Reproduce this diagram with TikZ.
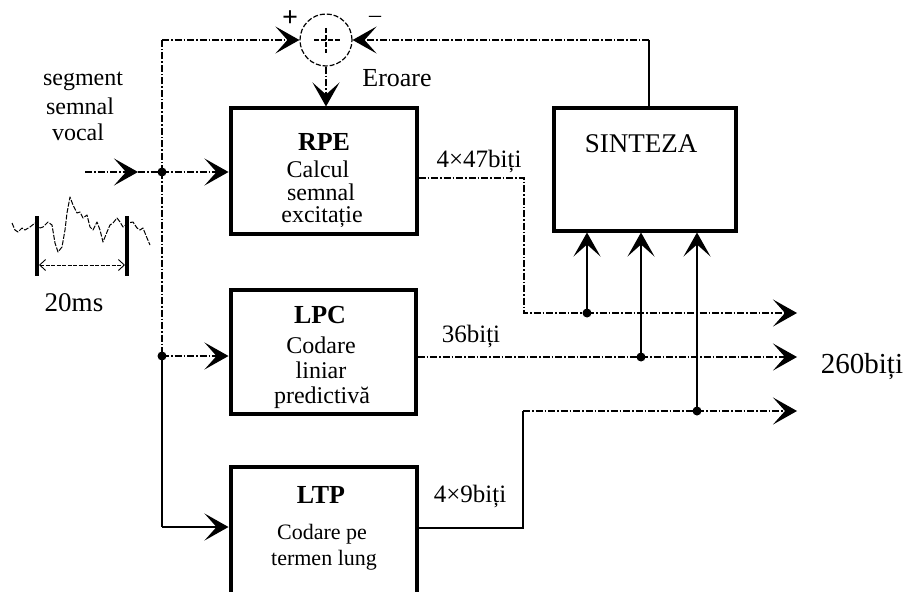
\documentclass[tikz,border=0pt]{standalone}
\usepackage{fontspec}
\setmainfont{Liberation Serif}
\usetikzlibrary{arrows.meta}
\begin{document}
\begin{tikzpicture}[x=1pt,y=-1pt,
 box/.style={draw, line width=4pt, inner sep=0pt},
 ln/.style={line width=1.2pt},
 dd/.style={ln, dash pattern=on 7pt off 2pt on 1.5pt off 2pt},
 arr/.style={-{Stealth[length=24pt,width=27pt,inset=12pt]}},
 dot/.style={circle, fill, inner sep=0pt, minimum size=9pt},
 txt/.style={font=\fontsize{24}{26}\selectfont, anchor=base, inner sep=0pt},
 head/.style={font=\fontsize{26}{28}\selectfont\bfseries, anchor=base, inner sep=0pt},
 lbl/.style={font=\fontsize{25}{27}\selectfont, anchor=base, inner sep=0pt},
]
\useasboundingbox (0,0) rectangle (909,591);
\clip (0,0) rectangle (909,591);

% boxes
\node[box, minimum width=186pt, minimum height=125pt] (rpe) at (323.5,171) {};
\node[box, minimum width=185pt, minimum height=124pt] (lpc) at (323,351.5) {};
\node[box, minimum width=186pt, minimum height=133pt] (ltp) at (323.5,533.5) {};
\node[box, minimum width=182pt, minimum height=122pt] (sin) at (644.5,169.5) {};
\node[draw, circle, ln, dash pattern=on 5pt off 2pt, minimum size=52pt, inner sep=0pt] (sum) at (326,40) {};
\draw[ln, dash pattern=on 5pt off 2pt] (314,40) -- (340,40);
\draw[ln, dash pattern=on 5pt off 2pt] (326,28) -- (326,53);

% box texts
\node[head] (rpeh) at (324,150) {RPE};
\node[txt] (rpe1) at (318,177) {Calcul};
\node[txt] (rpe2) at (321,200) {semnal};
\node[txt] (rpe3) at (322,222) {excitație};
\node[head] (lpch) at (320,323) {LPC};
\node[txt] (lpc1) at (321,353) {Codare};
\node[txt] (lpc2) at (321,378) {liniar};
\node[txt] (lpc3) at (322,403) {predictivă};
\node[head] (ltph) at (321,503) {LTP};
\node[txt, font=\fontsize{22}{24}\selectfont] (ltp1) at (322,539) {Codare pe};
\node[txt, font=\fontsize{22}{24}\selectfont] (ltp2) at (324,565) {termen lung};
\node[font=\fontsize{27}{29}\selectfont, anchor=base, inner sep=0pt] (sint) at (641,152) {SINTEZA};

% other texts
\node[txt] (s1) at (83,86) {segment};
\node[txt] (s2) at (80,114) {semnal};
\node[txt] (s3) at (78,140) {vocal};
\node[font=\fontsize{27}{29}\selectfont, anchor=base, inner sep=0pt] (ms) at (74,311) {20ms};
\node[font=\fontsize{26}{28}\selectfont, anchor=base, inner sep=0pt] (err) at (397,87) {Eroare};
\node[font=\fontsize{28}{30}\selectfont\bfseries, inner sep=0pt] (plus) at (290,19) {+};
\node[font=\fontsize{24}{26}\selectfont, inner sep=0pt] (minus) at (375,19) {--};
\node[lbl] (b1) at (479,167) {4×47biți};
\node[lbl] (b2) at (471,342) {36biți};
\node[lbl] (b3) at (470,502) {4×9biți};
\node[font=\fontsize{29}{31}\selectfont, anchor=base, inner sep=0pt] (tot) at (862,373) {260biți};

% coordinates
\coordinate (in0) at (85,172);
\coordinate (inm) at (138,172);
\coordinate (j1) at (162,172);
\coordinate (j2) at (162,356);
\coordinate (tl) at (162,40);
\coordinate (bl) at (162,527);
\coordinate (fb) at (649,40);
\coordinate (o1) at (524,178);
\coordinate (o1b) at (524,313);
\coordinate (d1) at (587,313);
\coordinate (e1) at (797,313);
\coordinate (d2) at (641,357);
\coordinate (e2) at (797,357);
\coordinate (o3) at (523,528);
\coordinate (o3b) at (523,411);
\coordinate (d3) at (697,411);
\coordinate (e3) at (797,411);

% input side
\draw[dd, arr] (in0) -- (inm);
\draw[dd] (inm) -- (j1);
\draw[dd] (j1) -- (tl);
\draw[dd, arr] (tl) -- (sum.west);
\draw[dd, arr] (j1) -- (j1 -| rpe.west);
\draw[dd] (j1) -- (j2);
\draw[dd, arr] (j2) -- (j2 -| lpc.west);
\draw[ln] (j2) -- (bl);
\draw[ln, arr] (bl) -- (bl -| ltp.west);
\draw[dd, arr] (sum.south) -- (sum.south |- rpe.north);

% feedback
\draw[ln] (fb |- sin.north) -- (fb);
\draw[dd, arr] (fb) -- (sum.east);

% outputs
\draw[dd] (o1 -| rpe.east) -- (o1) -- (o1b) -- (d1);
\draw[dd, arr] (d1) -- (e1);
\draw[ln, arr] (d1) -- (d1 |- sin.south);
\draw[dd] (d2 -| lpc.east) -- (d2);
\draw[dd, arr] (d2) -- (e2);
\draw[ln, arr] (d2) -- (d2 |- sin.south);
\draw[ln] (o3 -| ltp.east) -- (o3) -- (o3b);
\draw[dd] (o3b) -- (d3);
\draw[dd, arr] (d3) -- (e3);
\draw[ln, arr] (d3) -- (d3 |- sin.south);

% dots
\node[dot] (dj1) at (j1) {};
\node[dot] (dj2) at (j2) {};
\node[dot] (dd1) at (d1) {};
\node[dot] (dd2) at (d2) {};
\node[dot] (dd3) at (d3) {};

% waveform
\coordinate (w1t) at (37,216);
\coordinate (w1b) at (37,276);
\coordinate (w2t) at (127,216);
\coordinate (w2b) at (127,276);
\draw[line width=3.5pt] (w1t) -- (w1b);
\draw[line width=3.5pt] (w2t) -- (w2b);
\coordinate (wa) at (39,265);
\coordinate (wb) at (125,265);
\draw[line width=0.9pt, dash pattern=on 4pt off 1.5pt, {Straight Barb[length=6pt,width=11pt]}-{Straight Barb[length=6pt,width=11pt]}] (wa) -- (wb);
\draw[line width=1pt, dash pattern=on 5pt off 1.5pt, line join=round]
 (12,223) -- (15,230) -- (18,232) -- (22,228) -- (25,230) -- (30,227) -- (35,223)
 -- (40,228) -- (43,227) -- (48,222) -- (52,225) -- (55,243) -- (58,252) -- (62,247)
 -- (65,230) -- (67,213) -- (70,197) -- (73,205) -- (77,213) -- (80,212) -- (83,218)
 -- (87,215) -- (90,227) -- (93,230) -- (97,222) -- (100,230) -- (103,242) -- (107,232)
 -- (110,225) -- (113,223) -- (117,218) -- (120,222) -- (123,227) -- (128,223)
 -- (133,222) -- (137,228) -- (140,230) -- (143,228) -- (147,238) -- (150,245);
\end{tikzpicture}
\end{document}
